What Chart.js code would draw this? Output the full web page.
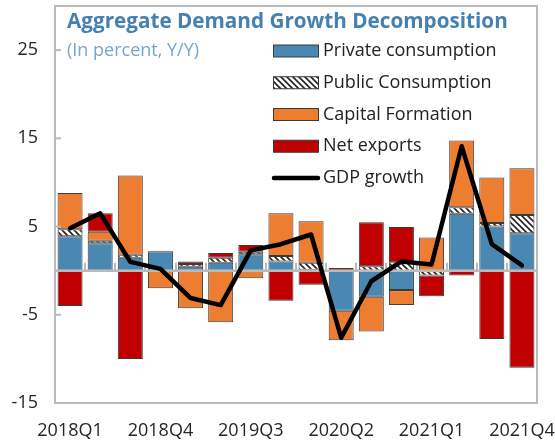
<!DOCTYPE html>
<html>
<head>
<meta charset="utf-8">
<script src="https://cdn.jsdelivr.net/npm/chart.js@4.4.1/dist/chart.umd.min.js"></script>
<style>
  html, body { margin: 0; padding: 0; background: #fff; }
  #wrap { width: 555px; height: 440px; }
</style>
</head>
<body>
<div id="wrap"><canvas id="chart" width="555" height="440"></canvas></div>
<script>
// quarters on the x axis
const quarters = [
  "2018Q1", "2018Q2", "2018Q3", "2018Q4",
  "2019Q1", "2019Q2", "2019Q3", "2019Q4",
  "2020Q1", "2020Q2", "2020Q3", "2020Q4",
  "2021Q1", "2021Q2", "2021Q3", "2021Q4"
];

// contributions, percentage points
const privateConsumption = [3.9, 3.1, 1.45, 2.2, 0.45, 0.9, 1.85, 1.05, 0.1, -4.55, -2.95, -2.2, 0.0, 6.45, 5.0, 4.25];
const publicConsumption  = [0.8, 0.3, 0.35, 0.05, 0.3, 0.55, 0.3, 0.6, 0.8, 0.0, 0.5, 0.95, -0.55, 0.75, 0.4, 2.05];
const capitalFormation   = [4.1, 1.0, 9.0, -2.0, -4.25, -5.85, -0.85, 4.85, 4.7, -3.35, -3.95, -1.7, 3.75, 7.55, 5.15, 5.3];
const netExports         = [-4.0, 2.1, -10.0, 0.0, 0.3, 0.55, 0.75, -3.4, -1.6, 0.3, 5.0, 4.0, -2.35, -0.55, -7.75, -11.0];
const gdpGrowth          = [4.8, 6.5, 1.0, 0.2, -3.1, -3.9, 2.3, 3.0, 4.1, -7.6, -1.2, 1.05, 0.7, 14.1, 3.0, 0.6];

const yTicks = [-15, -5, 5, 15, 25];

const FONT = "'Open Sans', 'Noto Sans', sans-serif";
const BLUE = "#4a88b4";
const ORANGE = "#ed7d31";
const RED = "#c00000";
const EDGE = "#3a3a3a";
const AXIS_GRAY = "#bababa";

// white with dark diagonal stripes
function makeHatch() {
  const s = 6;
  const c = document.createElement("canvas");
  c.width = s; c.height = s;
  const g = c.getContext("2d");
  g.fillStyle = "#fff";
  g.fillRect(0, 0, s, s);
  g.strokeStyle = "#222";
  g.lineWidth = 1.6;
  g.beginPath();
  g.moveTo(-1, -1); g.lineTo(s + 1, s + 1);
  g.moveTo(-1, s - 1); g.lineTo(1, s + 1);
  g.moveTo(s - 1, -1); g.lineTo(s + 1, 1);
  g.stroke();
  return g.createPattern(c, "repeat");
}
const hatch = makeHatch();

const legendItems = [
  { text: "Private consumption", fill: BLUE },
  { text: "Public Consumption", fill: hatch },
  { text: "Capital Formation", fill: ORANGE },
  { text: "Net exports", fill: RED },
  { text: "GDP growth", line: true }
];

// scales should not push the plot area in for label overhang
function noPad(s) {
  s.paddingTop = 0; s.paddingBottom = 0;
  s.paddingLeft = 0; s.paddingRight = 0;
}

const decorPlugin = {
  id: "decor",
  // zero line + category marks go under the GDP line but over the bars
  beforeDatasetDraw(chart, args) {
    if (args.meta.type !== "line") return;
    const ctx = chart.ctx;
    const area = chart.chartArea;
    const y0 = chart.scales.y.getPixelForValue(0);
    ctx.save();
    ctx.strokeStyle = AXIS_GRAY;
    ctx.lineWidth = 2;
    const step = (area.right - area.left) / quarters.length;
    for (let i = 1; i < quarters.length; i++) {
      const px = Math.round(area.left + i * step);
      ctx.beginPath();
      ctx.moveTo(px, y0);
      ctx.lineTo(px, y0 - 8);
      ctx.stroke();
    }
    ctx.lineWidth = 2.5;
    ctx.beginPath();
    ctx.moveTo(area.left, y0);
    ctx.lineTo(area.right, y0);
    ctx.stroke();
    ctx.restore();
  },
  afterDraw(chart) {
    const ctx = chart.ctx;
    const area = chart.chartArea;
    const yScale = chart.scales.y;
    ctx.save();
    // frame
    ctx.strokeStyle = AXIS_GRAY;
    ctx.lineWidth = 2;
    ctx.strokeRect(area.left, area.top, area.right - area.left, area.bottom - area.top);
    // inward y ticks
    yTicks.forEach(v => {
      const py = yScale.getPixelForValue(v);
      ctx.beginPath();
      ctx.moveTo(area.left, py);
      ctx.lineTo(area.left + 6, py);
      ctx.stroke();
    });

    // title
    ctx.textBaseline = "alphabetic";
    ctx.textAlign = "left";
    ctx.fillStyle = "#4580b3";
    ctx.font = "bold 20.7px " + FONT;
    ctx.fillText("Aggregate Demand Growth Decomposition", 67, 28);
    ctx.fillStyle = "#74a6d4";
    ctx.font = "18px " + FONT;
    ctx.fillText("(In percent, Y/Y)", 67, 56);

    // legend
    ctx.font = "18px " + FONT;
    ctx.textBaseline = "middle";
    legendItems.forEach((item, i) => {
      const cy = 51 + i * 31.75;
      if (item.line) {
        ctx.strokeStyle = "#000";
        ctx.lineWidth = 4.5;
        ctx.lineCap = "round";
        ctx.beginPath();
        ctx.moveTo(274, cy);
        ctx.lineTo(318, cy);
        ctx.stroke();
      } else {
        ctx.fillStyle = item.fill;
        ctx.fillRect(273.5, cy - 6, 45, 12);
        ctx.strokeStyle = EDGE;
        ctx.lineWidth = 1;
        ctx.strokeRect(273.5, cy - 6, 45, 12);
      }
      ctx.fillStyle = "#222";
      ctx.fillText(item.text, 323, cy);
    });
    ctx.restore();
  }
};

function barSet(label, data, color) {
  return {
    type: "bar",
    label: label,
    data: data,
    backgroundColor: color,
    borderColor: EDGE,
    borderWidth: 1,
    borderSkipped: false,
    barPercentage: 0.83,
    categoryPercentage: 1.0,
    stack: "demand",
    order: 1
  };
}

new Chart(document.getElementById("chart"), {
  data: {
    labels: quarters,
    datasets: [
      barSet("Private consumption", privateConsumption, BLUE),
      barSet("Public Consumption", publicConsumption, hatch),
      barSet("Capital Formation", capitalFormation, ORANGE),
      barSet("Net exports", netExports, RED),
      {
        type: "line",
        label: "GDP growth",
        data: gdpGrowth,
        borderColor: "#000",
        borderWidth: 4.5,
        pointRadius: 0,
        tension: 0,
        borderJoinStyle: "round",
        borderCapStyle: "round",
        order: 0
      }
    ]
  },
  options: {
    responsive: false,
    animation: false,
    devicePixelRatio: 1,
    layout: { autoPadding: false, padding: { left: 0, top: 6, right: 18, bottom: 0 } },
    plugins: {
      legend: { display: false },
      title: { display: false },
      tooltip: { enabled: false }
    },
    scales: {
      x: {
        stacked: true,
        offset: true,
        grid: { display: false, drawTicks: false },
        border: { display: false },
        ticks: {
          autoSkip: false,
          maxRotation: 0,
          padding: 17,
          color: "#262626",
          font: { family: FONT, size: 18 },
          callback: (v, i) => (i % 3 === 0 ? quarters[i] : "")
        },
        afterFit: s => { s.height = 37; noPad(s); }
      },
      y: {
        stacked: true,
        min: -15,
        max: 30,
        grid: { display: false, drawTicks: false },
        border: { display: false },
        afterBuildTicks: s => { s.ticks = yTicks.map(v => ({ value: v })); },
        ticks: {
          padding: 17,
          color: "#262626",
          font: { family: FONT, size: 18 }
        },
        afterFit: s => { s.width = 55; noPad(s); }
      }
    }
  },
  plugins: [decorPlugin]
});
</script>
</body>
</html>
